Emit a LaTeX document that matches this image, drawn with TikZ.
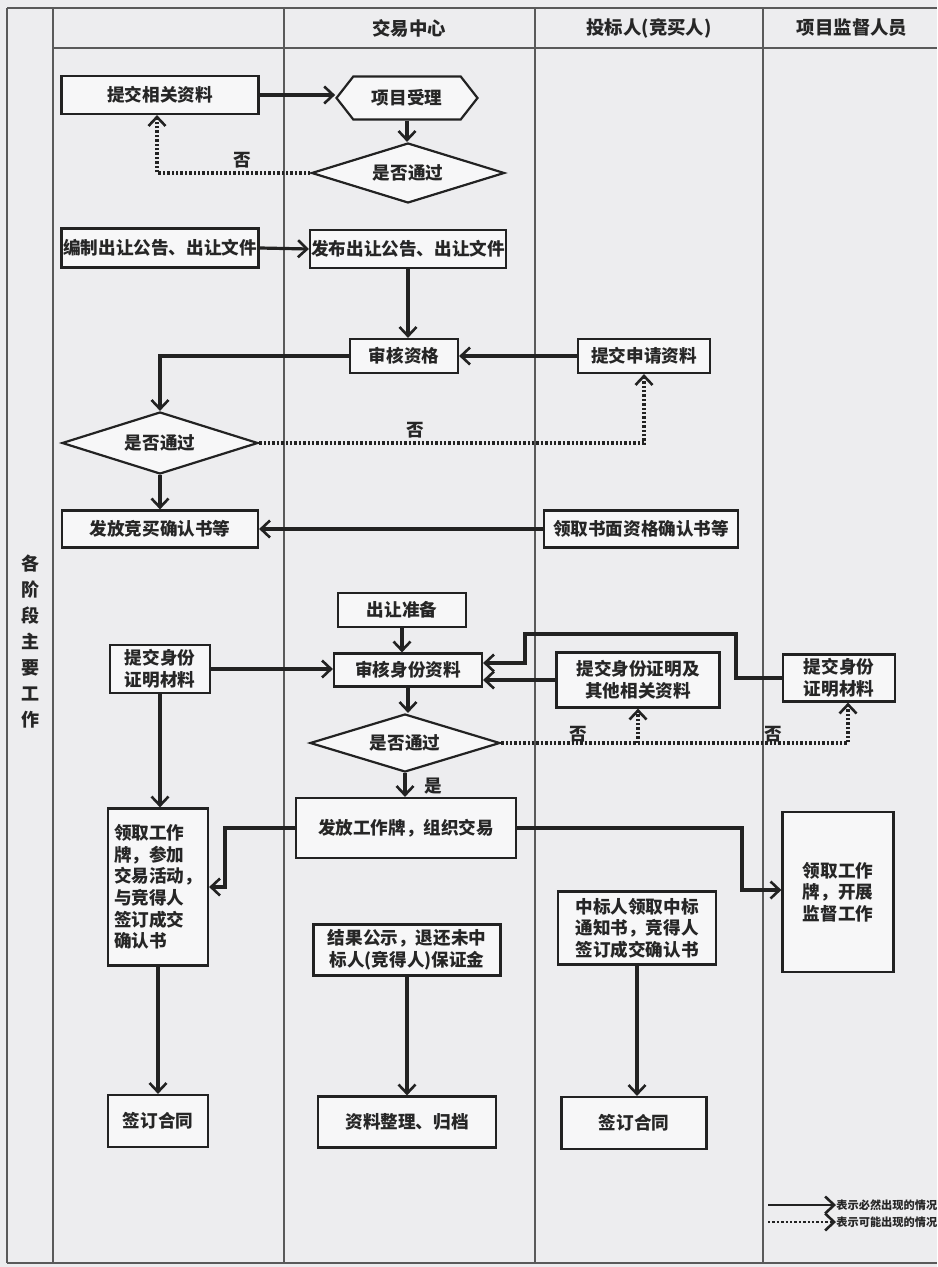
\documentclass[tikz,border=0pt]{standalone}
\usepackage{fontspec}
\setmainfont{Noto Sans CJK SC}
\usetikzlibrary{arrows.meta,shapes.geometric,shapes.symbols}
\definecolor{bg}{HTML}{EDEDEF}
\definecolor{ln}{HTML}{222222}
\definecolor{boxfill}{HTML}{F7F7F8}
\definecolor{lane}{HTML}{5A5A5A}
\begin{document}
\begin{tikzpicture}[x=0.5pt,y=-0.5pt,
  sz/.style 2 args={minimum width=#1*0.5pt, minimum height=#2*0.5pt},
  txt/.style={font=\bfseries\fontsize{8.8}{10.8}\selectfont, text=black!85},
  box/.style={txt, draw=ln, line width=1.1pt, fill=boxfill, align=center, inner sep=1pt},
  lbox/.style={box, align=left},
  dia/.style={txt, diamond, draw=ln, line width=1.1pt, fill=boxfill, inner sep=0pt, aspect=3.2},
  hexa/.style={txt, signal, signal to=west and east, signal pointer angle=104, draw=ln, line width=1.1pt, fill=boxfill, inner sep=1pt},
  flow/.style={draw=ln, line width=1.6pt, -{Straight Barb[length=4.5pt,width=8.5pt,line width=1.3pt]}},
  maybe/.style={flow, dash pattern=on 1.2pt off 1pt},
  lbl/.style={txt},
  head/.style={font=\bfseries\fontsize{9.2}{11}\selectfont, text=black!85},
  legtxt/.style={font=\bfseries\fontsize{5.6}{6}\selectfont, text=black!85, inner sep=0pt},
  laneline/.style={draw=lane, line width=0.9pt}
]
% background / bounding box
\fill[bg] (0,0) rectangle (937,1267);
\useasboundingbox (0,0) rectangle (937,1267);

% swimlane frame
\draw[laneline] (7,8) -- (937,8);
\draw[laneline] (7,8) -- (7,1263);
\draw[laneline] (53,8) -- (53,1263);
\draw[laneline] (284,8) -- (284,1263);
\draw[laneline] (535,8) -- (535,1263);
\draw[laneline] (763,8) -- (763,1263);
\draw[laneline] (53,48) -- (937,48);
\draw[laneline] (7,1263) -- (937,1263);

% headers
\node[head] (h1) at (409,28) {交易中心};
\node[head] (h2) at (649,28) {投标人(竞买人)};
\node[head] (h3) at (852,28) {项目监督人员};
\node[head, align=center, font=\bfseries\fontsize{9}{13}\selectfont] (side) at (30,642) {各\\阶\\段\\主\\要\\工\\作};

% nodes
\node[box, sz={197}{38}] (n1) at (160,95) {提交相关资料};
\node[hexa, sz={141}{43}] (n2) at (407,98) {项目受理};
\node[dia, sz={193}{60}] (d1) at (408,173) {是否通过};
\node[box, sz={197}{39}, inner sep=0pt] (n3) at (160,248) {编制出让公告、出让文件};
\node[box, sz={196}{38}, inner sep=0pt] (n4) at (408,249) {发布出让公告、出让文件};
\node[box, sz={108}{34}] (n5) at (404,356) {审核资格};
\node[box, sz={132}{34}] (n6) at (644,356) {提交申请资料};
\node[dia, sz={196}{62}] (d2) at (160,443) {是否通过};
\node[box, sz={196}{37}] (n7) at (160,529) {发放竞买确认书等};
\node[box, sz={194}{37}] (n8) at (641,529) {领取书面资格确认书等};
\node[box, sz={128}{34}] (n9) at (402,610) {出让准备};
\node[box, sz={148}{33}] (n10) at (408,670) {审核身份资料};
\node[box, sz={100}{48}] (n11) at (160,669) {提交身份\\证明材料};
\node[box, sz={163}{55}] (n12) at (638,680) {提交身份证明及\\其他相关资料};
\node[box, sz={112}{47}] (n13) at (839,678) {提交身份\\证明材料};
\node[dia, sz={190}{58}] (d3) at (405,743) {是否通过};
\node[box, sz={220}{60}] (n14) at (406,828) {发放工作牌，组织交易};
\node[lbox, sz={100}{157}] (n15) at (158,887) {领取工作\\牌，参加\\交易活动，\\与竞得人\\签订成交\\确认书};
\node[lbox, sz={111}{160}] (n16) at (838,892) {领取工作\\牌，开展\\监督工作};
\node[box, sz={187}{51}] (n17) at (407,950) {结果公示，退还未中\\标人(竞得人)保证金};
\node[box, sz={158}{73}] (n18) at (637,928) {中标人领取中标\\通知书，竞得人\\签订成交确认书};
\node[box, sz={100}{52}] (n19) at (158,1121) {签订合同};
\node[box, sz={178}{51}] (n20) at (407,1122) {资料整理、归档};
\node[box, sz={145}{52}] (n21) at (634,1123) {签订合同};

% helper coordinates
\coordinate (k1) at (736,634);
\coordinate (k2) at (525,663);
\coordinate (k3) at (225,887);
\coordinate (k4) at (742,890);

% connectors
\draw[flow] (n1.east) -- (n1.east -| n2.west);
\draw[flow] (n2.south) -- (n2.south |- d1.north);
\draw[maybe] (d1.west) -| ([xshift=-1.5pt]n1.south);
\node[lbl] (no1) at (242,160) {否};
\draw[flow] (n3.east) -- (n4.west);
\draw[flow] (n4.south) -- (n4.south |- n5.north);
\draw[flow] (n6.west) -- (n5.east);
\draw[flow] (n5.west) -| (d2.north);
\draw[maybe] (d2.east) -| (n6.south);
\node[lbl] (no2) at (415,430) {否};
\draw[flow] (d2.south) -- (n7.north);
\draw[flow] (n8.west) -- (n7.east);
\draw[flow] (n9.south) -- (n9.south |- n10.north);
\draw[flow] (n11.east) -- (n11.east -| n10.west);
\draw[flow] (n12.west) -- (n12.west -| n10.east);
\draw[flow] (n13.west) -| (k1) -| (k2) -- (k2 -| n10.east);
\draw[flow] (n10.south) -- (n10.south |- d3.north);
\draw[maybe] (d3.east) -| ([xshift=4.5pt]n13.south);
\draw[maybe] (d3.east -| n12.south) -- (n12.south);
\node[lbl] (no3) at (578,734) {否};
\node[lbl] (no4) at (773,734) {否};
\draw[flow] (d3.south) -- (d3.south |- n14.north);
\node[lbl] (yes1) at (433,786) {是};
\draw[flow] (n14.west) -| (k3) -- (k3 -| n15.east);
\draw[flow] (n14.east) -| (k4) -- (k4 -| n16.west);
\draw[flow] (n11.south) -- (n11.south |- n15.north);
\draw[flow] (n15.south) -- (n15.south |- n19.north);
\draw[flow] (n17.south) -- (n17.south |- n20.north);
\draw[flow] (n18.south) -- (n18.south |- n21.north);

% legend
\node[legtxt, anchor=west] (lt1) at (836,1205) {表示必然出现的情况};
\node[legtxt, anchor=west] (lt2) at (836,1222) {表示可能出现的情况};
\coordinate (la1) at (768,1205);
\coordinate (la2) at (768,1222);
\draw[flow, line width=1.3pt] (la1) -- (lt1.west);
\draw[maybe, line width=1.3pt] (la2) -- (lt2.west);
\end{tikzpicture}
\end{document}
